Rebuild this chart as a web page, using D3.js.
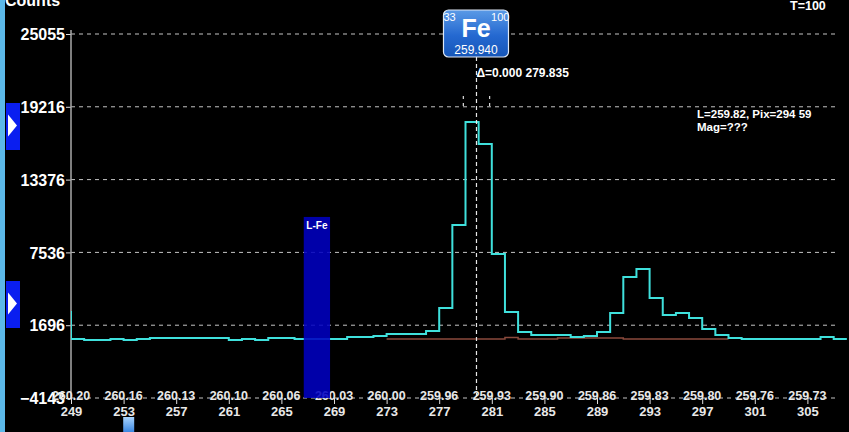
<!DOCTYPE html>
<html><head><meta charset="utf-8">
<script src="https://cdn.jsdelivr.net/npm/d3@7"></script>
<style>html,body{margin:0;padding:0;background:#000;overflow:hidden}svg{display:block}text{font-family:"Liberation Sans",Arial,sans-serif;font-weight:bold}</style>
</head><body>
<script>
// ---- data ----
const yTicks = [-4143, 1696, 7536, 13376, 19216, 25055];
const pixTicks = [249, 253, 257, 261, 265, 269, 273, 277, 281, 285, 289, 293, 297, 301, 305];
const waveLabels = ["260.20","260.16","260.13","260.10","260.06","260.03","260.00","259.96","259.93","259.90","259.86","259.83","259.80","259.76","259.73"];
const pixels = [248,249,250,251,252,253,254,255,256,257,258,259,260,261,262,263,264,265,266,267,268,269,270,271,272,273,274,275,276,277,278,279,280,281,282,283,284,285,286,287,288,289,290,291,292,293,294,295,296,297,298,299,300,301,302,303,304,305,306,307,308];
const counts = [2750,590,510,510,590,510,590,670,670,670,670,670,670,510,590,510,670,670,590,590,590,590,750,750,830,990,990,990,1230,3080,9730,18000,16230,7410,2760,1150,910,910,910,750,830,1150,2680,5560,6200,3880,2520,2680,2270,1390,910,670,590,590,590,590,590,590,750,590,590];
const fitPixels = [273,274,275,276,277,278,279,280,281,282,283,284,285,286,287,288,289,290,291,292,293,294,295,296,297,298,299];
const fitCounts = [590,590,590,590,590,590,590,590,590,700,590,590,590,670,670,670,670,670,590,590,590,590,590,590,590,590,590];
const cursorPix = 279.835;
const element = {symbol:"Fe", left:"33", right:"100", wave:"259.940"};
const deltaText = "\u0394=0.000 279.835";
const infoLines = ["L=259.82, Pix=294 59", "Mag=???"];
const lineMarker = {label:"L-Fe", pixFrom:266.7, pixTo:268.7, top:10380};
const smallMarkerPix = 253.35;

// ---- layout ----
const W = 849, H = 432;
const svg = d3.select("body").append("svg").attr("width", W).attr("height", H);
svg.append("rect").attr("width", W).attr("height", H).attr("fill", "#000");

const x = d3.scaleLinear().domain([249, 305]).range([71, 807.4]);
const y = d3.scaleLinear().domain([-4143, 25055]).range([398, 34]);

const defs = svg.append("defs");
defs.append("clipPath").attr("id", "plot").append("rect").attr("x", 71).attr("y", 0).attr("width", W - 71).attr("height", 400);
const g1 = defs.append("linearGradient").attr("id", "feg").attr("x1", 0).attr("y1", 0).attr("x2", 0).attr("y2", 1);
g1.append("stop").attr("offset", "0%").attr("stop-color", "#5a9ae6");
g1.append("stop").attr("offset", "55%").attr("stop-color", "#2468d0");
g1.append("stop").attr("offset", "100%").attr("stop-color", "#1656b8");
const g2 = defs.append("linearGradient").attr("id", "smg").attr("x1", 0).attr("y1", 0).attr("x2", 0).attr("y2", 1);
g2.append("stop").attr("offset", "0%").attr("stop-color", "#a8d4ff");
g2.append("stop").attr("offset", "100%").attr("stop-color", "#3a86e0");

// gridlines
svg.append("g").selectAll("line").data(yTicks).join("line")
  .attr("x1", 71).attr("x2", 836).attr("y1", d => y(d)).attr("y2", d => y(d))
  .attr("stroke", "#c4c4c4").attr("stroke-width", 1).attr("stroke-dasharray", "4,4");

// y axis
const yAxis = d3.axisLeft(y).tickValues(yTicks).tickSize(5).tickFormat(d3.format("d"));
const ya = svg.append("g").attr("transform", "translate(71,0)").call(yAxis);
ya.select(".domain").remove();
ya.selectAll(".tick line").attr("stroke", "#ddd");
ya.selectAll(".tick text").attr("fill", "#fff").attr("font-size", 16).attr("x", -6).attr("dy", "0.36em");
svg.append("line").attr("x1", 71).attr("x2", 71).attr("y1", 30).attr("y2", 398).attr("stroke", "#a8a8a8").attr("stroke-width", 1.5);

// x axis (pixels) with ticks
const xAxis = d3.axisBottom(x).tickValues(pixTicks).tickSize(6).tickFormat(d3.format("d"));
const xa = svg.append("g").attr("transform", "translate(0,398)").call(xAxis);
xa.select(".domain").remove();
xa.selectAll(".tick line").attr("stroke", "#ddd");
xa.selectAll(".tick text").attr("fill", "#e8e8e8").attr("font-size", 13).attr("y", 9).attr("dy", "0.71em");
// wavelength labels
svg.append("g").selectAll("text").data(pixTicks).join("text")
  .attr("x", d => x(d)).attr("y", 400).attr("text-anchor", "middle")
  .attr("fill", "#e8e8e8").attr("font-size", 12.5).text((d, i) => waveLabels[i]);

// fit line (brown)
const plot = svg.append("g").attr("clip-path", "url(#plot)");
plot.append("path")
  .attr("d", d3.line().curve(d3.curveStepAfter).x(d => x(d[0])).y(d => y(d[1]))(fitPixels.map((p, i) => [p, fitCounts[i]])))
  .attr("fill", "none").attr("stroke", "#8a4a3c").attr("stroke-width", 1.5);
// spectrum
plot.append("path")
  .attr("d", d3.line().curve(d3.curveStepAfter).x(d => x(d[0])).y(d => y(d[1]))(pixels.map((p, i) => [p, counts[i]])))
  .attr("fill", "none").attr("stroke", "#3fe0dc").attr("stroke-width", 2);

// L-Fe marker
svg.append("rect").attr("x", x(lineMarker.pixFrom)).attr("width", x(lineMarker.pixTo) - x(lineMarker.pixFrom))
  .attr("y", y(lineMarker.top)).attr("height", 398 - y(lineMarker.top))
  .attr("fill", "#0000c0").attr("opacity", 0.88);
svg.append("text").attr("x", (x(lineMarker.pixFrom) + x(lineMarker.pixTo)) / 2).attr("y", y(lineMarker.top) + 12)
  .attr("text-anchor", "middle").attr("fill", "#fff").attr("font-size", 10).text(lineMarker.label);

// cursor
const cx = x(cursorPix);
svg.append("line").attr("x1", cx).attr("x2", cx).attr("y1", 57).attr("y2", 398)
  .attr("stroke", "#e8e8e8").attr("stroke-width", 1.2).attr("stroke-dasharray", "4,3");
[x(cursorPix - 1), x(cursorPix + 1)].forEach(px => {
  svg.append("line").attr("x1", px).attr("x2", px).attr("y1", 96).attr("y2", 107)
    .attr("stroke", "#ddd").attr("stroke-width", 1.2).attr("stroke-dasharray", "3,4");
});
svg.append("text").attr("x", cx).attr("y", 77).attr("fill", "#fff").attr("font-size", 12).text(deltaText);

// element box
const bx = cx - 33, bw = 65;
svg.append("rect").attr("x", bx).attr("y", 10).attr("width", bw).attr("height", 47).attr("rx", 5)
  .attr("fill", "url(#feg)").attr("stroke", "#dfe8f5").attr("stroke-width", 1.2);
svg.append("text").attr("x", bx + bw / 2).attr("y", 37).attr("text-anchor", "middle").attr("fill", "#fff").attr("font-size", 25).text(element.symbol);
svg.append("text").attr("x", bx).attr("y", 21).attr("fill", "#fff").attr("font-size", 11).style("font-weight", "normal").text(element.left);
svg.append("text").attr("x", bx + bw + 1).attr("y", 21).attr("text-anchor", "end").attr("fill", "#fff").attr("font-size", 11).style("font-weight", "normal").text(element.right);
svg.append("text").attr("x", bx + bw / 2).attr("y", 54).attr("text-anchor", "middle").attr("fill", "#fff").attr("font-size", 12).style("font-weight", "normal").text(element.wave);

// info text
infoLines.forEach((t, i) => svg.append("text").attr("x", 697).attr("y", 118 + i * 13).attr("fill", "#fff").attr("font-size", 11.5).text(t));
svg.append("text").attr("x", 790).attr("y", 10).attr("fill", "#fff").attr("font-size", 12.5).text("T=100");
svg.append("text").attr("x", 5).attr("y", 6).attr("fill", "#fff").attr("font-size", 16).text("Counts");

// left strip & arrows
svg.append("rect").attr("x", 0).attr("y", 0).attr("width", 5).attr("height", H).attr("fill", "#5cb8e8");
[[103, 150], [281, 328]].forEach(([a, b]) => {
  svg.append("rect").attr("x", 6).attr("y", a).attr("width", 14).attr("height", b - a).attr("fill", "#0a1ef0");
  const m = (a + b) / 2;
  svg.append("path").attr("d", `M8,${m - 12}L17,${m - 1}L8,${m + 10}Z`).attr("fill", "#fff");
});

// small marker at bottom
svg.append("rect").attr("x", x(smallMarkerPix) - 5).attr("y", 417).attr("width", 11).attr("height", 15).attr("fill", "url(#smg)");
</script>
</body></html>
